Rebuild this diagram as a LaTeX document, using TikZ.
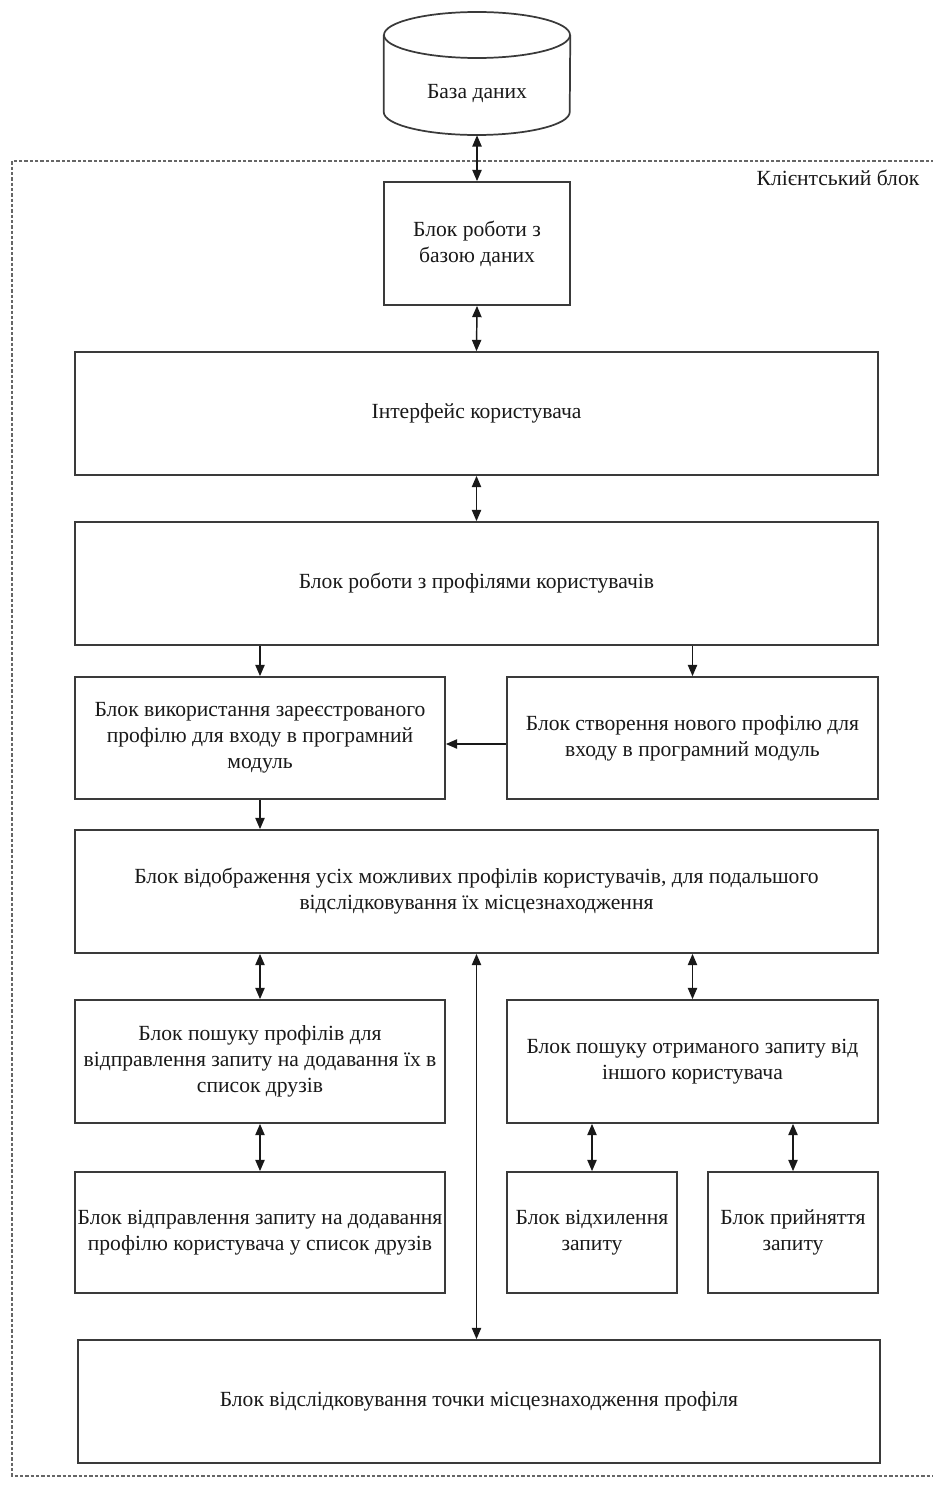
\documentclass[tikz,border=0pt]{standalone}
\usepackage{fontspec}
\setmainfont{Liberation Serif}
\usetikzlibrary{arrows.meta,calc}
\definecolor{edge}{HTML}{3A3A3A}
\begin{document}
\begin{tikzpicture}[x=0.75pt,y=-0.75pt,
  every node/.style={font=\fontsize{16.2}{19.5}\selectfont, text=black!90},
  box/.style={draw=edge, line width=1.3pt, inner sep=0pt, align=center},
  tip/.tip={Triangle[length=8.5pt,width=7pt]},
  arr/.style={draw=black!90, line width=1.1pt, -tip},
  dbl/.style={draw=black!90, line width=1.1pt, tip-tip},
  frame/.style={draw=black!60, line width=0.8pt, dash pattern=on 2.5pt off 1.5pt}]
\useasboundingbox (0,0) rectangle (932,1488);

% client block frame (runs past the right edge)
\draw[frame] (945,161) -- (12,161) -- (12,1476) -- (945,1476);
\node[anchor=east] (client) at (924,178) {Клієнтський блок};

% database cylinder
\node[inner sep=0pt, minimum width=186*0.75pt, minimum height=123*0.75pt] (db) at (477,73.5) {};
\draw[edge, line width=1.3pt]
  (db.north west |- 0,35) -- (db.west |- 0,112)
  arc[start angle=180, end angle=0, x radius=93, y radius=23]
  -- (db.north east |- 0,35);
\draw[edge, line width=1.3pt] (477,35) ellipse[x radius=93, y radius=23];
\node (dbtext) at (477,94) {База даних};

% blocks: centre, width and height in pixels
\node[box, minimum width=186*0.75pt, minimum height=123*0.75pt] (b1) at (477,243.5) {Блок роботи з\\базою даних};
\node[box, minimum width=803*0.75pt, minimum height=123*0.75pt] (b2) at (476.5,413.5) {Інтерфейс користувача};
\node[box, minimum width=803*0.75pt, minimum height=123*0.75pt] (b3) at (476.5,583.5) {Блок роботи з профілями користувачів};
\node[box, minimum width=370*0.75pt, minimum height=122*0.75pt] (b4) at (260,738) {Блок використання зареєстрованого\\профілю для входу в програмний\\модуль};
\node[box, minimum width=371*0.75pt, minimum height=122*0.75pt] (b5) at (692.5,738) {Блок створення нового профілю для\\входу в програмний модуль};
\node[box, minimum width=803*0.75pt, minimum height=123*0.75pt] (b6) at (476.5,891.5) {Блок відображення усіх можливих профілів користувачів, для подальшого\\відслідковування їх місцезнаходження};
\node[box, minimum width=370*0.75pt, minimum height=123*0.75pt] (b7) at (260,1061.5) {Блок пошуку профілів для\\відправлення запиту на додавання їх в\\список друзів};
\node[box, minimum width=371*0.75pt, minimum height=123*0.75pt] (b8) at (692.5,1061.5) {Блок пошуку отриманого запиту від\\іншого користувача};
\node[box, minimum width=370*0.75pt, minimum height=121*0.75pt] (b9) at (260,1232.5) {Блок відправлення запиту на додавання\\профілю користувача у список друзів};
\node[box, minimum width=170*0.75pt, minimum height=121*0.75pt] (b10) at (592,1232.5) {Блок відхилення\\запиту};
\node[box, minimum width=170*0.75pt, minimum height=121*0.75pt] (b11) at (793,1232.5) {Блок прийняття\\запиту};
\node[box, minimum width=802*0.75pt, minimum height=123*0.75pt] (b12) at (479,1401.5) {Блок відслідковування точки місцезнаходження профіля};

% connectors
\draw[dbl] (db.south) -- (b1.north);
\draw[dbl] (b1.south) -- (b2.north);
\draw[dbl] (b2.south) -- (b3.north);
\draw[arr] (b3.south -| b4.north) -- (b4.north);
\draw[arr] (b3.south -| b5.north) -- (b5.north);
\draw[arr] ($(b5.west)+(0,6)$) -- ($(b4.east)+(0,6)$);
\draw[arr] (b4.south) -- (b6.north -| b4.south);
\draw[dbl] (b6.south -| b7.north) -- (b7.north);
\draw[dbl] (b6.south -| b8.north) -- (b8.north);
\draw[dbl] (b7.south) -- (b9.north);
\draw[dbl] (b8.south -| b10.north) -- (b10.north);
\draw[dbl] (b8.south -| b11.north) -- (b11.north);
\draw[dbl] (b6.south) -- (b6.south |- b12.north);
\end{tikzpicture}
\end{document}
